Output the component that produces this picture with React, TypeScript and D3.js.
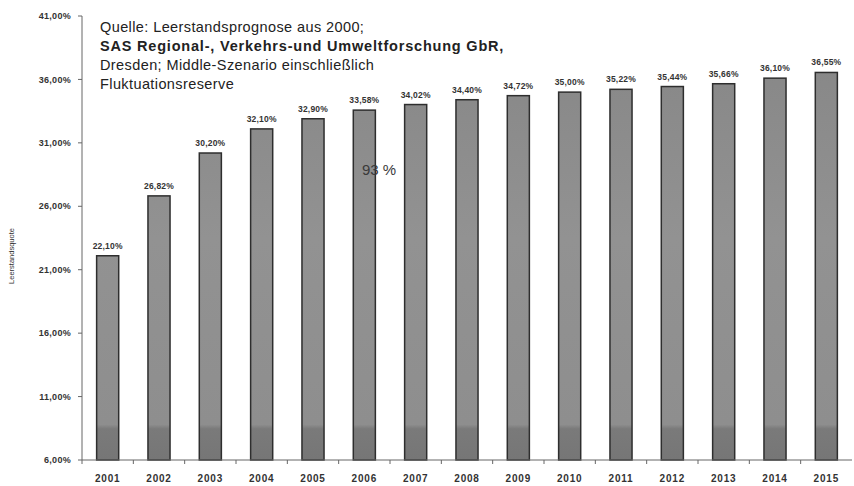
import React from "react";
import * as d3 from "d3";

const years = ["2001","2002","2003","2004","2005","2006","2007","2008","2009","2010","2011","2012","2013","2014","2015"];
const values = [22.10, 26.82, 30.20, 32.10, 32.90, 33.58, 34.02, 34.40, 34.72, 35.00, 35.22, 35.44, 35.66, 36.10, 36.55];
const yTicks = [6, 11, 16, 21, 26, 31, 36, 41];
const noteLines = [
  { text: "Quelle: Leerstandsprognose aus 2000;", bold: false },
  { text: "SAS Regional-, Verkehrs-und Umweltforschung GbR,", bold: true },
  { text: "Dresden; Middle-Szenario einschließlich", bold: false },
  { text: "Fluktuationsreserve", bold: false },
];
const yTitle = "Leerstandsquote";
const annotation = "93 %";

const W = 854, H = 486;
const left = 82, right = 852, top = 16, bottom = 460;

const fmt = (v: number) => d3.format(".2f")(v).replace(".", ",") + "%";

export default function App() {
  const x = d3.scaleBand<string>().domain(years).range([left, right]).paddingInner(0.57).paddingOuter(0.285);
  const y = d3.scaleLinear().domain([6, 41]).range([bottom, top]);
  const step = x.step();
  const font = "Arial, 'Liberation Sans', sans-serif";
  return (
    <svg width={W} height={H} style={{ position: "absolute", left: 0, top: 0, background: "#fff" }} fontFamily={font}>
      <defs>
        <linearGradient id="barg" gradientUnits="userSpaceOnUse" x1="0" y1={top} x2="0" y2={bottom}>
          <stop offset="0" stopColor="#858585" />
          <stop offset="0.5" stopColor="#929292" />
          <stop offset="0.92" stopColor="#8e8e8e" />
          <stop offset="0.93" stopColor="#7a7a7a" />
          <stop offset="1" stopColor="#767676" />
        </linearGradient>
      </defs>
      {/* y axis */}
      <line x1={left} x2={left} y1={top} y2={bottom} stroke="#666" strokeWidth={1} />
      {yTicks.map((t) => (
        <g key={t}>
          <line x1={left - 4} x2={left} y1={y(t)} y2={y(t)} stroke="#666" />
          <text x={71} y={y(t)} dy="0.35em" textAnchor="end" fontSize={9} fontWeight="bold" letterSpacing={0.3} fill="#333">{fmt(t)}</text>
        </g>
      ))}
      <text transform={`translate(14,${256}) rotate(-90)`} textAnchor="middle" fontSize={7.5} fill="#333">{yTitle}</text>
      {/* bars */}
      {years.map((yr, i) => {
        const bx = x(yr)!;
        const bw = x.bandwidth();
        const by = y(values[i]);
        return (
          <g key={yr}>
            <rect x={bx} y={by} width={bw} height={bottom - by} fill="url(#barg)" stroke="#2e2e2e" strokeWidth={1.5} />
            <text x={bx + bw / 2} y={by - 7} textAnchor="middle" fontSize={8.5} fontWeight="bold" letterSpacing={0.2} fill="#333">{fmt(values[i])}</text>
            <text x={bx + bw / 2} y={478} dy="0.35em" textAnchor="middle" fontSize={10} fontWeight="bold" letterSpacing={0.8} fill="#333">{yr}</text>
          </g>
        );
      })}
      {/* x axis */}
      <line x1={left} x2={right} y1={bottom} y2={bottom} stroke="#666" />
      {years.map((yr) => (
        <line key={"t" + yr} x1={x(yr)! - step * 0.285} x2={x(yr)! - step * 0.285} y1={bottom} y2={bottom + 4} stroke="#666" />
      ))}
      {/* note */}
      {noteLines.map((l, i) => (
        <text key={i} x={100} y={27 + i * 19} dy="0.35em" fontSize={14.5} fontWeight={l.bold ? "bold" : "normal"} letterSpacing={l.bold ? 0.8 : 0.4} fill="#222">{l.text}</text>
      ))}
      <text x={362} y={170} dy="0.35em" fontSize={15} fill="#3a3a3a">{annotation}</text>
    </svg>
  );
}
